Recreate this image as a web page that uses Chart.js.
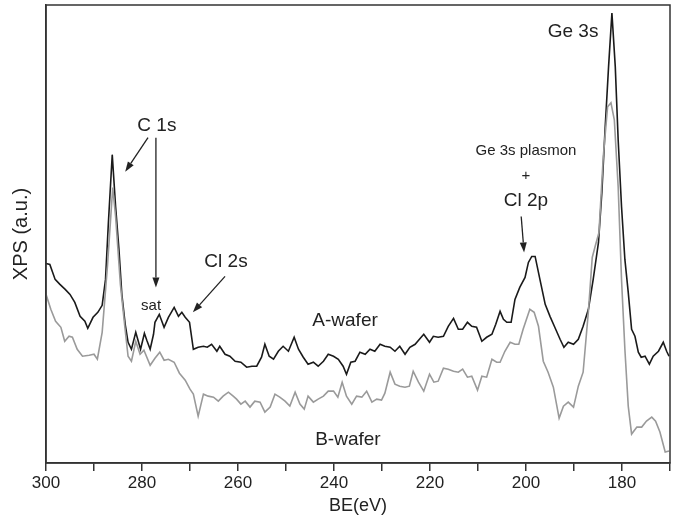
<!DOCTYPE html>
<html><head><meta charset="utf-8">
<script src="https://cdn.jsdelivr.net/npm/chart.js@4/dist/chart.umd.min.js"></script>
<style>html,body{margin:0;padding:0;background:#fff;}#wrap{width:677px;height:520px;position:relative;}</style>
</head><body><div id="wrap"><canvas id="c"></canvas></div>
<script>
// Binding energy (eV), intensity (a.u.)
const aWafer = [[300.0,200],[299.2,199],[298.1,184],[297.1,179],[296.0,174],[295.0,169],[294.0,161],[292.9,147],[291.9,142],[291.3,135],[290.2,146],[289.2,151],[288.3,158],[287.6,184],[287.0,241],[286.2,309],[285.5,257],[284.8,214],[284.2,169],[283.5,139],[282.9,121],[282.2,114],[281.3,131],[280.3,114],[279.5,130],[279.0,123],[278.3,114],[277.6,129],[277.3,141],[276.4,149],[275.4,136],[274.5,146],[273.3,156],[272.4,147],[271.7,151],[271.0,146],[270.1,141],[269.3,114],[268.3,116],[267.2,117],[266.4,116],[265.5,119],[264.4,112],[263.8,117],[262.7,109],[261.7,107],[260.6,102],[259.4,101],[258.2,96],[257.1,97],[256.1,97],[255.1,106],[254.4,119],[253.5,107],[252.6,104],[251.6,112],[250.6,117],[249.5,112],[248.3,126],[247.4,114],[246.4,106],[245.4,99],[244.3,101],[243.3,97],[242.2,102],[241.2,109],[240.1,107],[239.1,104],[238.1,97],[237.4,89],[236.5,101],[235.6,102],[234.6,111],[233.5,109],[232.5,114],[231.5,112],[230.4,119],[229.4,117],[228.3,116],[227.3,112],[226.3,117],[225.2,109],[224.2,116],[223.1,119],[222.2,124],[221.3,129],[220.1,121],[219.3,127],[218.3,126],[217.2,127],[216.2,137],[215.1,145],[214.1,134],[213.2,134],[212.2,141],[211.3,137],[210.3,136],[209.2,122],[208.2,126],[207.1,129],[206.3,139],[205.4,152],[204.7,144],[204.0,141],[203.1,141],[202.3,164],[201.3,176],[200.2,186],[199.5,201],[198.8,207],[198.1,207],[197.1,184],[196.0,159],[195.0,147],[194.0,136],[192.9,124],[192.1,116],[191.2,121],[190.1,119],[189.1,124],[188.1,137],[187.0,154],[186.0,184],[184.9,221],[184.2,271],[183.5,337],[182.8,397],[182.1,451],[181.4,397],[180.8,324],[180.1,257],[179.4,204],[178.7,171],[178.0,134],[177.3,127],[176.6,111],[176.0,106],[175.2,107],[174.3,99],[173.5,107],[172.4,112],[171.4,121],[170.7,112],[170.2,107]];

const bWafer = [[300.0,169],[299.0,154],[298.0,142],[296.9,136],[296.1,122],[295.2,127],[294.5,126],[293.5,114],[292.4,107],[291.0,108],[290.0,109],[289.3,104],[288.3,131],[287.2,197],[286.1,276],[285.5,247],[284.5,179],[283.5,133],[282.9,107],[282.2,102],[281.3,122],[280.4,109],[279.6,113],[278.3,98],[277.3,105],[276.3,111],[275.4,103],[274.5,104],[273.3,101],[272.2,90],[271.0,83],[270.0,74],[269.3,69],[268.3,47],[267.2,69],[266.2,67],[265.1,66],[264.1,62],[263.1,67],[262.0,71],[261.0,67],[260.3,64],[259.4,59],[258.5,62],[257.5,56],[256.5,62],[255.4,61],[254.4,51],[253.3,56],[252.3,69],[251.3,66],[250.2,62],[249.2,57],[248.1,71],[247.1,59],[246.2,54],[245.4,67],[244.3,61],[243.3,64],[242.2,67],[241.2,72],[240.1,72],[239.2,66],[238.3,81],[237.4,67],[236.3,59],[235.3,67],[234.2,66],[233.2,72],[232.1,61],[231.1,64],[230.1,63],[229.4,70],[228.3,91],[227.3,79],[226.3,77],[225.2,76],[224.3,77],[223.5,92],[222.4,81],[221.3,72],[220.1,89],[219.2,81],[218.3,82],[217.2,95],[216.2,94],[215.1,92],[214.1,91],[213.2,94],[212.2,86],[211.3,87],[210.1,73],[209.2,87],[208.2,86],[207.1,104],[206.1,101],[205.4,101],[204.4,112],[203.3,121],[202.3,119],[201.5,119],[200.6,134],[199.9,144],[199.2,154],[198.3,151],[197.4,137],[196.4,102],[195.4,91],[194.3,76],[193.1,45],[192.2,57],[191.2,61],[190.1,56],[189.1,77],[188.1,91],[187.0,152],[186.2,206],[185.6,217],[184.8,231],[183.9,307],[183.0,357],[182.3,361],[181.6,344],[180.8,277],[180.1,184],[179.4,114],[178.7,57],[178.0,29],[176.9,36],[175.9,36],[174.9,42],[173.8,46],[173.0,42],[172.1,31],[171.0,11],[170.2,12]];

const seriesNames = ['A-wafer', 'B-wafer'];
const xRange = [170, 300];
const yRange = [0, 459];
const xTickStep = 10;
const xLabelEvery = 20;
const xTitle = 'BE(eV)';
const yTitle = 'XPS (a.u.)';

// Annotation labels / arrows, positioned in data coordinates (eV, a.u.)
const labels = [
  {text:'C 1s', x:276.9, y:338, size:19},
  {text:'sat', x:278.1, y:157, size:15},
  {text:'Cl 2s', x:262.5, y:202, size:19},
  {text:'Ge 3s plasmon', x:200.0, y:313, size:15},
  {text:'+', x:200.0, y:288, size:15},
  {text:'Cl 2p', x:200.0, y:263, size:19},
  {text:'Ge 3s', x:190.2, y:432, size:19},
  {text:'A-wafer', x:237.7, y:143, size:19},
  {text:'B-wafer', x:237.1, y:23, size:19}
];
const arrows = [
  {from:[278.75,326], to:[283.5,292]},
  {from:[277.1,326], to:[277.1,176]},
  {from:[262.7,187], to:[269.4,151]},
  {from:[201.0,247], to:[200.4,211]}
];

const FONT = '"Liberation Sans", Arial, Helvetica, sans-serif';
const INK = '#222';

const toPts = arr => arr.map(p => ({x:p[0], y:p[1]}));

const framePlugin = {
  id:'frame',
  afterDraw(chart){
    const {ctx, chartArea:a} = chart;
    ctx.save();
    ctx.strokeStyle = '#333';
    ctx.lineWidth = 1.5;
    ctx.strokeRect(a.left, a.top, a.right - a.left, a.bottom - a.top);
    ctx.restore();
  }
};

const annotPlugin = {
  id:'annot',
  afterDatasetsDraw(chart){
    const {ctx, scales:{x, y}} = chart;
    ctx.save();
    ctx.fillStyle = INK;
    ctx.strokeStyle = INK;
    ctx.textAlign = 'center';
    ctx.textBaseline = 'middle';
    labels.forEach(l => {
      ctx.font = l.size + 'px ' + FONT;
      ctx.fillText(l.text, x.getPixelForValue(l.x), y.getPixelForValue(l.y));
    });
    arrows.forEach(a => {
      const x1 = x.getPixelForValue(a.from[0]), y1 = y.getPixelForValue(a.from[1]);
      const x2 = x.getPixelForValue(a.to[0]), y2 = y.getPixelForValue(a.to[1]);
      const ang = Math.atan2(y2 - y1, x2 - x1);
      const hl = 10, hw = 3.5;
      const bx = x2 - hl * Math.cos(ang), by = y2 - hl * Math.sin(ang);
      ctx.lineWidth = 1.3;
      ctx.beginPath(); ctx.moveTo(x1, y1); ctx.lineTo(bx, by); ctx.stroke();
      ctx.beginPath();
      ctx.moveTo(x2, y2);
      ctx.lineTo(bx + hw * Math.sin(ang), by - hw * Math.cos(ang));
      ctx.lineTo(bx - hw * Math.sin(ang), by + hw * Math.cos(ang));
      ctx.closePath(); ctx.fill();
    });
    ctx.restore();
  }
};

new Chart(document.getElementById('c'), {
  type:'line',
  data:{
    datasets:[
      {label:seriesNames[1], data:toPts(bWafer), borderColor:'#9a9a9a', borderWidth:1.6, pointRadius:0, tension:0, fill:false},
      {label:seriesNames[0], data:toPts(aWafer), borderColor:'#1a1a1a', borderWidth:1.6, pointRadius:0, tension:0, fill:false}
    ]
  },
  options:{
    responsive:true,
    maintainAspectRatio:false,
    animation:false,
    layout:{padding:{left:5, right:7, top:5, bottom:3}},
    plugins:{legend:{display:false}, tooltip:{enabled:false}},
    scales:{
      x:{
        type:'linear', reverse:true, min:xRange[0], max:xRange[1],
        ticks:{stepSize:xTickStep, autoSkip:false, maxRotation:0, padding:2, color:INK,
          font:{family:FONT, size:17},
          callback:v => (v % xLabelEvery === 0 ? String(v) : '')},
        grid:{display:true, drawOnChartArea:false, drawTicks:true, tickLength:8, color:'#333', lineWidth:1.5},
        border:{display:true, color:'#333', width:1.5},
        title:{display:true, text:xTitle, color:INK, font:{family:FONT, size:18}, padding:{top:0, bottom:0}}
      },
      y:{
        min:yRange[0], max:yRange[1],
        ticks:{display:false},
        grid:{display:false, drawTicks:false},
        border:{display:true, color:'#333', width:1.5},
        title:{display:true, text:yTitle, color:INK, font:{family:FONT, size:20}, padding:{top:4, bottom:13}}
      }
    }
  },
  plugins:[framePlugin, annotPlugin]
});
</script>
</body></html>
